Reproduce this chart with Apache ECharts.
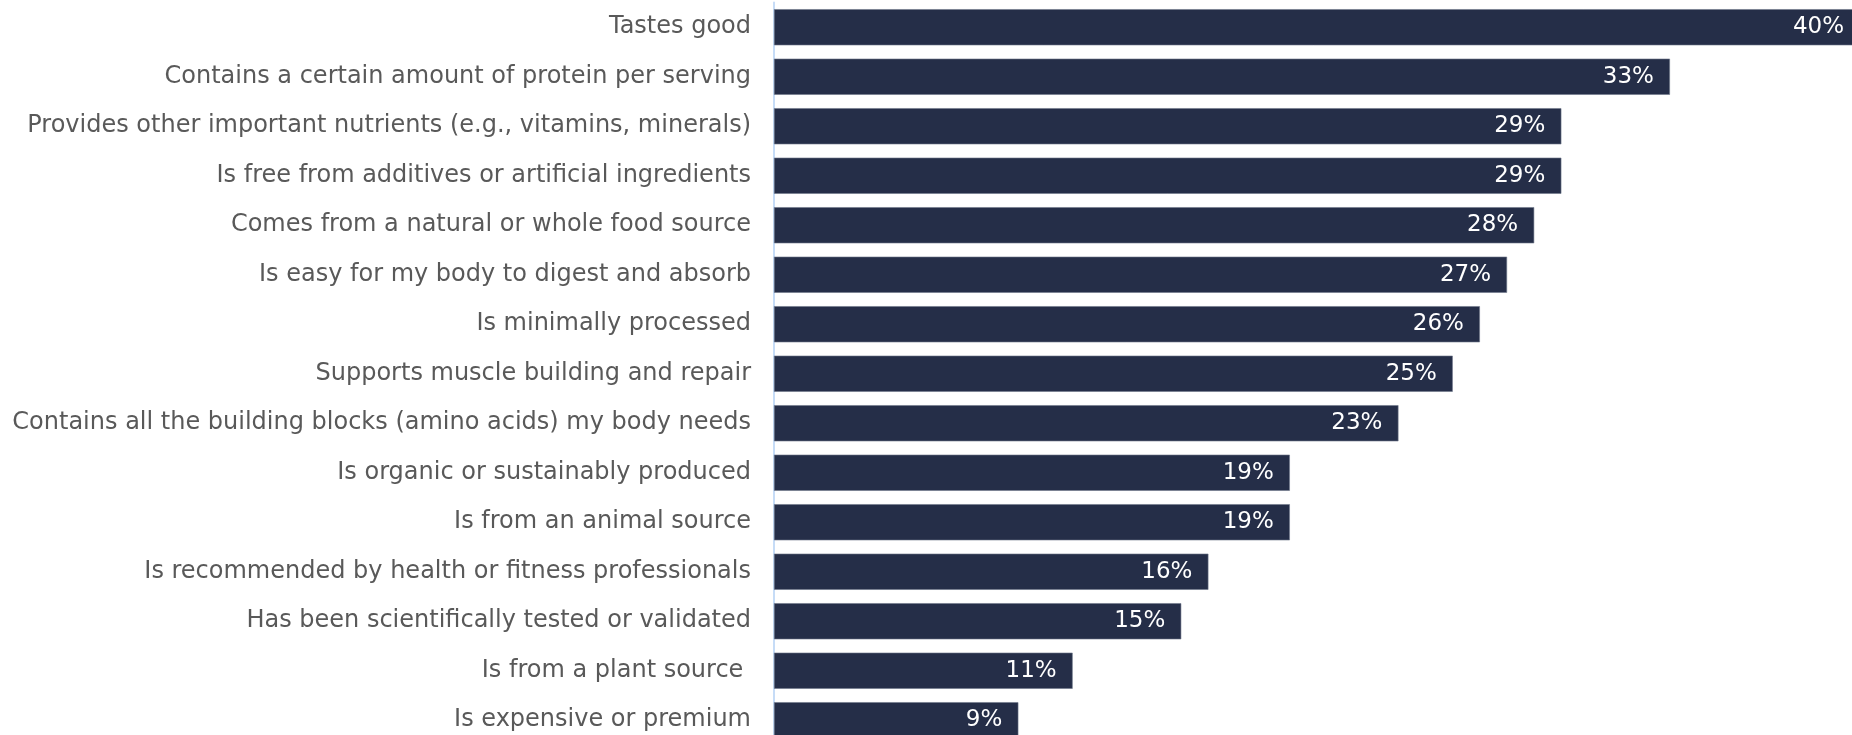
<!DOCTYPE html>
<html>
<head>
<meta charset="utf-8">
<script src="https://cdn.jsdelivr.net/npm/echarts@6/dist/echarts.min.js"></script>
<style>
html,body{margin:0;padding:0;background:#fff;overflow:hidden;}
#chart{width:1852px;height:735px;}
</style>
</head>
<body>
<div id="chart"></div>
<script>
const categories = [
  "Tastes good",
  "Contains a certain amount of protein per serving",
  "Provides other important nutrients (e.g., vitamins, minerals)",
  "Is free from additives or artificial ingredients",
  "Comes from a natural or whole food source",
  "Is easy for my body to digest and absorb",
  "Is minimally processed",
  "Supports muscle building and repair",
  "Contains all the building blocks (amino acids) my body needs",
  "Is organic or sustainably produced",
  "Is from an animal source",
  "Is recommended by health or fitness professionals",
  "Has been scientifically tested or validated",
  "Is from a plant source ",
  "Is expensive or premium"
];
const values = [40, 33, 29, 29, 28, 27, 26, 25, 23, 19, 19, 16, 15, 11, 9];

const chart = echarts.init(document.getElementById('chart'));
chart.setOption({
  animation: false,
  grid: { left: 774, width: 1086, top: 2.5, height: 742.5, containLabel: false, outerBoundsMode: 'none' },
  xAxis: {
    type: 'value', min: 0, max: 40,
    show: false
  },
  yAxis: {
    type: 'category',
    data: categories,
    inverse: true,
    axisLine: { show: true, lineStyle: { color: '#c6dcf7', width: 2 } },
    axisTick: { show: false },
    axisLabel: {
      color: '#595959',
      fontFamily: 'DejaVu Sans',
      fontSize: 24,
      margin: 23
    }
  },
  series: [{
    type: 'bar',
    data: values,
    barCategoryGap: '27%',
    itemStyle: { color: '#252e48', borderColor: '#6f778a', borderWidth: 0.6 },
    label: {
      show: true,
      position: 'insideRight',
      distance: 16,
      color: '#ffffff',
      fontFamily: 'DejaVu Sans',
      fontSize: 23,
      formatter: p => Math.round(p.value) + '%'
    }
  }]
});
</script>
</body>
</html>
